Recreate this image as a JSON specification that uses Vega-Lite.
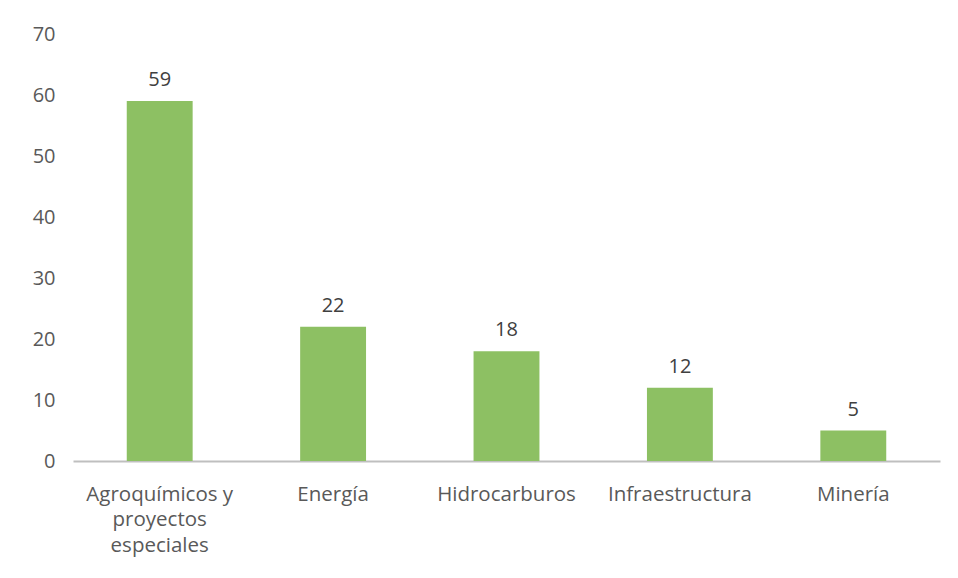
{
  "$schema": "https://vega.github.io/schema/vega-lite/v6.json",
  "width": 867,
  "height": 427,
  "autosize": {"type": "none"},
  "padding": {"left": 73, "top": 34, "right": 18, "bottom": 117},
  "background": "white",
  "config": {"view": {"stroke": null}, "font": "Open Sans"},
  "data": {"values": [
    {"sector": "Agroquímicos y proyectos especiales", "value": 59},
    {"sector": "Energía", "value": 22},
    {"sector": "Hidrocarburos", "value": 18},
    {"sector": "Infraestructura", "value": 12},
    {"sector": "Minería", "value": 5}
  ]},
  "encoding": {
    "x": {"field": "sector", "type": "nominal", "sort": null,
      "scale": {"paddingInner": 0.62, "paddingOuter": 0.31},
      "axis": {"title": null, "labelAngle": 0, "ticks": false, "domainColor": "#BFBFBF", "domainWidth": 2,
        "labelFont": "Open Sans", "labelFontSize": 20.5, "labelColor": "#595959", "labelPadding": 23, "labelLineHeight": 25.5, "labelLimit": 300,
        "labelExpr": "datum.label == 'Agroquímicos y proyectos especiales' ? ['Agroquímicos y', 'proyectos', 'especiales'] : datum.label"}},
    "y": {"field": "value", "type": "quantitative",
      "scale": {"domain": [0, 70]},
      "axis": {"title": null, "grid": false, "domain": false, "ticks": false, "values": [0,10,20,30,40,50,60,70],
        "labelFont": "Open Sans", "labelFontSize": 20, "labelColor": "#595959", "labelPadding": 18}}
  },
  "layer": [
    {"mark": {"type": "bar", "color": "#8DC063"}},
    {"mark": {"type": "text", "dy": -11, "baseline": "bottom", "fontSize": 20, "font": "Open Sans", "color": "#404040"},
      "encoding": {"text": {"field": "value", "type": "quantitative"}}}
  ]
}
